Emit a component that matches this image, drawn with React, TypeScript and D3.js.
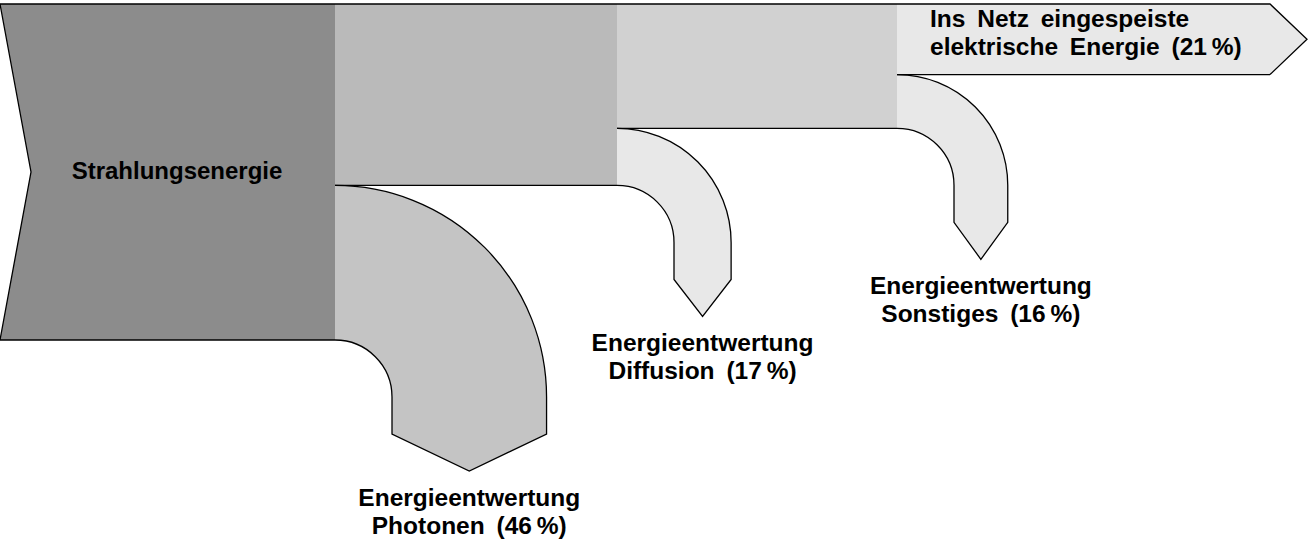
import React from 'react';
import * as d3 from 'd3';

// Energieflüsse in Prozent der eingestrahlten Energie
const sourceLabel = 'Strahlungsenergie';
const lossTitle = 'Energieentwertung';
const lossNames = ['Photonen', 'Diffusion', 'Sonstiges'];
const lossValues = [46, 17, 16];
const outputLines = ['Ins Netz eingespeiste', 'elektrische Energie'];
const outputValue = 21;

const W = 1310;
const H = 553;
const stageX = [0, 335, 617, 897, 1270];
const blockFills = ['#8c8c8c', '#bababa', '#d1d1d1', '#e8e8e8'];
const lossFills = ['#c4c4c4', '#e8e8e8', '#e8e8e8'];
const innerR = 57;
const straight = 37;
const tip = 37;
const notch = 31;
const font = '"Liberation Sans", Arial, sans-serif';
const pct = (v: number) => `(${v}\u2009%)`;

export default function App() {
  const y = d3.scaleLinear().domain([0, 100]).range([4, 340]);
  // verbleibender Anteil nach jeder Stufe
  const remaining = [100];
  lossValues.forEach((v, i) => remaining.push(remaining[i] - v));

  const top = y(0);
  const blocks = remaining.map((r, i) => {
    const x0 = stageX[i];
    const x1 = stageX[i + 1];
    const yb = y(r);
    const p = d3.path();
    if (i === 0) {
      p.moveTo(x0, top);
      p.lineTo(x1, top);
      p.lineTo(x1, yb);
      p.lineTo(x0, yb);
      p.lineTo(x0 + notch, (top + yb) / 2);
      p.closePath();
    } else if (i === remaining.length - 1) {
      p.moveTo(x0, top);
      p.lineTo(x1, top);
      p.lineTo(x1 + tip, (top + yb) / 2);
      p.lineTo(x1, yb);
      p.lineTo(x0, yb);
      p.closePath();
    } else {
      p.moveTo(x0, top);
      p.lineTo(x1, top);
      p.lineTo(x1, yb);
      p.lineTo(x0, yb);
      p.closePath();
    }
    return { d: p.toString(), fill: blockFills[i], x0, x1, yb };
  });

  const losses = lossValues.map((v, i) => {
    const cx = stageX[i + 1];
    const yIn = y(remaining[i]);
    const yOut = y(remaining[i + 1]);
    const w = yIn - yOut;
    const R = innerR + w;
    const cy = yIn + innerR;
    const yS = cy + straight;
    const tx = cx + (innerR + R) / 2;
    const ty = yS + tip;
    const outline = d3.path();
    outline.moveTo(cx, yOut);
    outline.arc(cx, cy, R, -Math.PI / 2, 0);
    outline.lineTo(cx + R, yS);
    outline.lineTo(tx, ty);
    outline.lineTo(cx + innerR, yS);
    outline.lineTo(cx + innerR, cy);
    outline.arc(cx, cy, innerR, 0, -Math.PI / 2, true);
    const fill = outline.toString() + 'Z';
    return { fill, stroke: outline.toString(), color: lossFills[i], tx, ty, name: lossNames[i], v };
  });

  const last = blocks[blocks.length - 1];
  const first = blocks[0];

  const topLine = d3.line()([
    [stageX[0], top],
    [last.x1, top],
    [last.x1 + tip, (top + last.yb) / 2],
    [last.x1, last.yb],
  ]);
  const leftLine = d3.line()([
    [first.x0, top],
    [first.x0 + notch, (top + first.yb) / 2],
    [first.x0, first.yb],
  ]);

  return (
    <svg
      width={W}
      height={H}
      style={{ position: 'absolute', left: 0, top: 0, background: '#fff' }}
      fontFamily={font}
      fontWeight="bold"
      fontSize={24.5}
      wordSpacing={5}
    >
      {blocks.map((b, i) => (
        <path key={`b${i}`} d={b.d} fill={b.fill} />
      ))}
      {losses.map((l, i) => (
        <g key={`l${i}`}>
          <path d={l.fill} fill={l.color} />
          <path d={l.stroke} fill="none" stroke="#000" strokeWidth={1.3} />
        </g>
      ))}
      {blocks.map((b, i) => (
        <line key={`bl${i}`} x1={b.x0} x2={b.x1} y1={b.yb} y2={b.yb} stroke="#000" strokeWidth={1.3} />
      ))}
      <path d={topLine || ''} fill="none" stroke="#000" strokeWidth={1.3} />
      <path d={leftLine || ''} fill="none" stroke="#000" strokeWidth={1.3} />

      <text x={(first.x0 + notch + first.x1) / 2 - 6} y={(top + first.yb) / 2 + 7} textAnchor="middle" fill="#000" fontSize={24}>
        {sourceLabel}
      </text>
      {losses.map((l, i) => (
        <text key={`t${i}`} textAnchor="middle" fill="#000">
          <tspan x={l.tx} y={l.ty + 35}>{lossTitle}</tspan>
          <tspan x={l.tx} y={l.ty + 63}>{`${l.name} ${pct(l.v)}`}</tspan>
        </text>
      ))}
      <text fill="#000">
        <tspan x={last.x0 + 33} y={27}>{outputLines[0]}</tspan>
        <tspan x={last.x0 + 33} y={55}>{`${outputLines[1]} ${pct(outputValue)}`}</tspan>
      </text>
    </svg>
  );
}
